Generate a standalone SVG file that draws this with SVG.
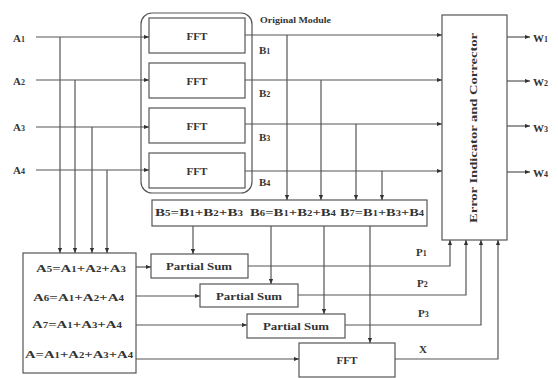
<svg xmlns="http://www.w3.org/2000/svg" width="558" height="378" viewBox="0 0 558 378">
<style>
text{font-family:"Liberation Serif","DejaVu Serif",serif;font-weight:bold;fill:#333}
.box{fill:#fff;stroke:#555;stroke-width:1.2}
.ln{fill:none;stroke:#555;stroke-width:1.2}
.s{font-size:8px}
.lbl{font-size:11px}
.eq{font-size:11px}
.c{text-anchor:middle}
</style>
<defs>
<marker id="ar" viewBox="0 0 6 6" refX="6" refY="3" markerWidth="5" markerHeight="5" orient="auto" markerUnits="userSpaceOnUse">
<path d="M0,0.5 L6,3 L0,5.5 Z" fill="#333"/>
</marker>
</defs>
<rect width="558" height="378" fill="#fff"/>

<g id="original-module">
<rect class="box" x="141" y="13" width="111" height="180" rx="11"/>
<text x="260" y="23" font-size="7.5" textLength="71" lengthAdjust="spacingAndGlyphs">Original Module</text>
</g>
<g id="fft1"><rect class="box" x="149" y="18" width="96" height="35"/><text class="lbl c" x="197" y="40">FFT</text></g>
<g id="fft2"><rect class="box" x="149" y="63" width="96" height="35"/><text class="lbl c" x="197" y="85">FFT</text></g>
<g id="fft3"><rect class="box" x="149" y="108" width="96" height="35"/><text class="lbl c" x="197" y="130">FFT</text></g>
<g id="fft4"><rect class="box" x="149" y="153" width="96" height="35"/><text class="lbl c" x="197" y="175">FFT</text></g>

<g id="inputs">
<text class="lbl" x="13" y="42">A<tspan class="s">1</tspan></text>
<text class="lbl" x="13" y="85">A<tspan class="s">2</tspan></text>
<text class="lbl" x="13" y="131">A<tspan class="s">3</tspan></text>
<text class="lbl" x="13" y="174">A<tspan class="s">4</tspan></text>
</g>

<g id="b-labels">
<text class="lbl" x="259" y="54">B<tspan class="s">1</tspan></text>
<text class="lbl" x="259" y="97">B<tspan class="s">2</tspan></text>
<text class="lbl" x="259" y="141">B<tspan class="s">3</tspan></text>
<text class="lbl" x="259" y="186">B<tspan class="s">4</tspan></text>
</g>

<g id="error-corrector">
<rect class="box" x="442" y="15" width="65" height="225"/>
<text class="lbl c" transform="translate(477,128) rotate(-90)" textLength="190" lengthAdjust="spacingAndGlyphs">Error Indicator and Corrector</text>
</g>

<g id="outputs">
<text class="lbl" x="533" y="42">W<tspan class="s">1</tspan></text>
<text class="lbl" x="533" y="86">W<tspan class="s">2</tspan></text>
<text class="lbl" x="533" y="132">W<tspan class="s">3</tspan></text>
<text class="lbl" x="533" y="177">W<tspan class="s">4</tspan></text>
</g>

<g id="b-sums">
<rect class="box" x="152" y="200" width="275" height="26"/>
<text class="eq" x="155" y="216" textLength="88" lengthAdjust="spacingAndGlyphs">B<tspan class="s">5</tspan>=B<tspan class="s">1</tspan>+B<tspan class="s">2</tspan>+B<tspan class="s">3</tspan></text>
<text class="eq" x="250" y="216" textLength="86" lengthAdjust="spacingAndGlyphs">B<tspan class="s">6</tspan>=B<tspan class="s">1</tspan>+B<tspan class="s">2</tspan>+B<tspan class="s">4</tspan></text>
<text class="eq" x="340" y="216" textLength="84" lengthAdjust="spacingAndGlyphs">B<tspan class="s">7</tspan>=B<tspan class="s">1</tspan>+B<tspan class="s">3</tspan>+B<tspan class="s">4</tspan></text>
</g>

<g id="a-sums">
<rect class="box" x="23" y="253" width="113" height="120"/>
<text class="eq" x="36" y="272" textLength="90" lengthAdjust="spacingAndGlyphs">A<tspan class="s">5</tspan>=A<tspan class="s">1</tspan>+A<tspan class="s">2</tspan>+A<tspan class="s">3</tspan></text>
<text class="eq" x="33" y="301" textLength="91" lengthAdjust="spacingAndGlyphs">A<tspan class="s">6</tspan>=A<tspan class="s">1</tspan>+A<tspan class="s">2</tspan>+A<tspan class="s">4</tspan></text>
<text class="eq" x="32" y="328" textLength="90" lengthAdjust="spacingAndGlyphs">A<tspan class="s">7</tspan>=A<tspan class="s">1</tspan>+A<tspan class="s">3</tspan>+A<tspan class="s">4</tspan></text>
<text class="eq" x="25" y="358" textLength="108" lengthAdjust="spacingAndGlyphs">A=A<tspan class="s">1</tspan>+A<tspan class="s">2</tspan>+A<tspan class="s">3</tspan>+A<tspan class="s">4</tspan></text>
</g>

<g id="partial-sum1"><rect class="box" x="151" y="254" width="97" height="24"/><text class="lbl c" x="199" y="270" textLength="66" lengthAdjust="spacingAndGlyphs">Partial Sum</text></g>
<g id="partial-sum2"><rect class="box" x="200" y="284" width="98" height="23"/><text class="lbl c" x="249" y="300" textLength="66" lengthAdjust="spacingAndGlyphs">Partial Sum</text></g>
<g id="partial-sum3"><rect class="box" x="247" y="314" width="98" height="24"/><text class="lbl c" x="296" y="330" textLength="66" lengthAdjust="spacingAndGlyphs">Partial Sum</text></g>
<g id="fft-sum"><rect class="box" x="299" y="343" width="96" height="34"/><text class="lbl c" x="347" y="364">FFT</text></g>

<g id="p-labels">
<text class="lbl" x="416" y="256">P<tspan class="s">1</tspan></text>
<text class="lbl" x="417" y="287">P<tspan class="s">2</tspan></text>
<text class="lbl" x="418" y="317">P<tspan class="s">3</tspan></text>
<text class="lbl" x="419" y="353">X</text>
</g>

<g id="connectors">
<line class="ln" x1="36" y1="37" x2="149" y2="37" marker-end="url(#ar)"/>
<line class="ln" x1="36" y1="80" x2="149" y2="80" marker-end="url(#ar)"/>
<line class="ln" x1="36" y1="127" x2="149" y2="127" marker-end="url(#ar)"/>
<line class="ln" x1="36" y1="170" x2="149" y2="170" marker-end="url(#ar)"/>
<line class="ln" x1="60" y1="37" x2="60" y2="253" marker-end="url(#ar)"/>
<line class="ln" x1="75" y1="80" x2="75" y2="253" marker-end="url(#ar)"/>
<line class="ln" x1="92" y1="127" x2="92" y2="253" marker-end="url(#ar)"/>
<line class="ln" x1="107" y1="170" x2="107" y2="253" marker-end="url(#ar)"/>

<line class="ln" x1="245" y1="35" x2="442" y2="35" marker-end="url(#ar)"/>
<line class="ln" x1="245" y1="80" x2="442" y2="80" marker-end="url(#ar)"/>
<line class="ln" x1="245" y1="124" x2="442" y2="124" marker-end="url(#ar)"/>
<line class="ln" x1="245" y1="171" x2="442" y2="171" marker-end="url(#ar)"/>
<line class="ln" x1="287" y1="35" x2="287" y2="200" marker-end="url(#ar)"/>
<line class="ln" x1="321" y1="80" x2="321" y2="200" marker-end="url(#ar)"/>
<line class="ln" x1="356" y1="124" x2="356" y2="200" marker-end="url(#ar)"/>
<line class="ln" x1="382" y1="171" x2="382" y2="200" marker-end="url(#ar)"/>

<line class="ln" x1="507" y1="37" x2="530" y2="37" marker-end="url(#ar)"/>
<line class="ln" x1="507" y1="81" x2="530" y2="81" marker-end="url(#ar)"/>
<line class="ln" x1="507" y1="126" x2="530" y2="126" marker-end="url(#ar)"/>
<line class="ln" x1="507" y1="172" x2="530" y2="172" marker-end="url(#ar)"/>

<line class="ln" x1="193" y1="226" x2="193" y2="254" marker-end="url(#ar)"/>
<line class="ln" x1="271" y1="226" x2="271" y2="284" marker-end="url(#ar)"/>
<line class="ln" x1="324" y1="226" x2="324" y2="314" marker-end="url(#ar)"/>
<line class="ln" x1="370" y1="226" x2="370" y2="343" marker-end="url(#ar)"/>

<line class="ln" x1="136" y1="267" x2="151" y2="267" marker-end="url(#ar)"/>
<line class="ln" x1="136" y1="296" x2="200" y2="296" marker-end="url(#ar)"/>
<line class="ln" x1="136" y1="325" x2="247" y2="325" marker-end="url(#ar)"/>
<line class="ln" x1="136" y1="359" x2="299" y2="359" marker-end="url(#ar)"/>

<polyline class="ln" points="248,266 450,266 450,240" marker-end="url(#ar)"/>
<polyline class="ln" points="298,295 466,295 466,240" marker-end="url(#ar)"/>
<polyline class="ln" points="345,325 481,325 481,240" marker-end="url(#ar)"/>
<polyline class="ln" points="395,359 498,359 498,240" marker-end="url(#ar)"/>
</g>
</svg>
